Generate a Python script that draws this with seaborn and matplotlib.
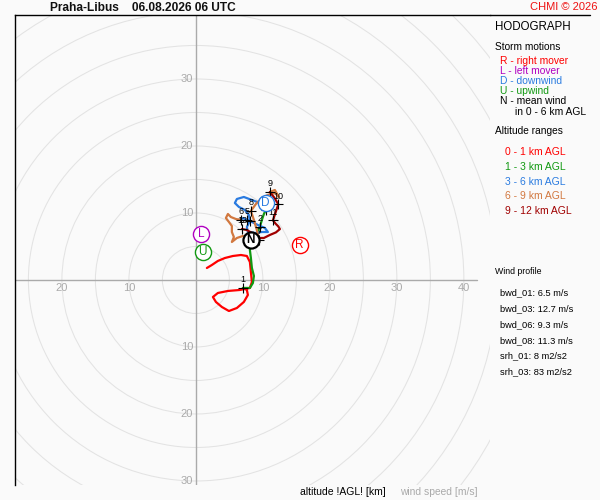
import numpy as np
import pandas as pd
import matplotlib
matplotlib.use("Agg")
import matplotlib.pyplot as plt
import seaborn as sns
from matplotlib.patches import Circle
from matplotlib.lines import Line2D

# ---------------- data (m/s) ----------------
seg_names = ["0 - 1 km AGL", "1 - 3 km AGL", "3 - 6 km AGL", "6 - 9 km AGL", "9 - 12 km AGL"]
seg_colors = ["#ff0000", "#119911", "#2a7be0", "#d2783f", "#a00000"]

u_0_1 = [1.64, 2.39, 3.28, 4.33, 5.52, 6.72, 7.61, 8.06, 8.21, 8.36, 8.06, 6.57, 4.78, 3.28,
         2.54, 2.99, 3.88, 4.93, 6.12, 7.16, 7.76, 7.61, 7.01]
v_0_1 = [1.79, 2.24, 2.84, 3.28, 3.58, 3.73, 3.58, 2.69, 1.19, -0.30, -1.19, -1.49, -1.64, -1.94,
         -2.54, -3.28, -4.03, -4.63, -4.18, -3.28, -2.24, -1.49, -1.19]

u_1_3 = [7.01, 8.06, 8.51, 8.66, 8.36, 8.21, 8.06, 8.21, 8.66, 9.10, 9.40, 9.55, 9.85, 10.15, 10.45]
v_1_3 = [-1.19, -1.19, -0.45, 0.60, 1.79, 3.28, 4.48, 5.37, 6.12, 6.87, 7.61, 7.91, 8.96, 9.85, 10.45]

u_3_6 = [10.45, 9.55, 8.36, 7.16, 6.12, 5.82, 6.42, 7.31, 7.91, 8.06, 7.61, 7.76, 8.81, 9.85,
         10.75, 10.30, 9.25, 8.36, 7.61, 7.01, 6.72]
v_3_6 = [10.45, 11.49, 11.94, 12.39, 12.09, 11.49, 10.90, 10.45, 9.70, 8.81, 7.91, 7.16, 7.01, 7.16,
         7.16, 7.76, 8.21, 8.66, 8.96, 9.25, 8.96]

u_6_9 = [6.72, 5.97, 5.22, 4.78, 4.48, 4.93, 5.37, 5.37, 5.67, 5.37, 6.12, 7.01, 8.06, 9.40,
         9.10, 8.66, 8.21, 8.96, 9.85, 10.75, 11.79, 12.39, 11.79, 11.04]
v_6_9 = [8.96, 9.10, 9.40, 9.85, 9.25, 8.66, 8.06, 7.16, 6.42, 5.67, 6.27, 6.57, 6.27, 5.97,
         7.46, 8.96, 10.30, 11.34, 12.24, 12.69, 12.99, 12.39, 13.43, 13.13]

u_9_12 = [11.04, 11.70, 12.30, 11.90, 11.50, 11.90, 12.30, 12.54, 11.94, 11.04, 10.15, 9.25,
          8.36, 7.61, 6.87]
v_9_12 = [13.13, 12.30, 11.30, 10.10, 8.90, 8.40, 8.00, 7.60, 7.10, 6.72, 6.27, 6.27,
          7.01, 7.46, 7.61]

km_u = [7.01, 9.55, 10.45, 8.06, 7.61, 6.72, 9.40, 8.21, 11.04, 12.30, 11.50, 6.87]
km_v = [-1.19, 7.91, 10.45, 8.81, 8.96, 8.96, 5.97, 10.30, 13.13, 11.30, 8.90, 7.61]
km_text = ["1", "2", "", "", "5", "6", "7", "8", "9", "10", "11", "12"]

storm_letters = ["R", "L", "D", "U", "N"]
storm_u = [15.5, 0.75, 10.4, 1.0, 8.2]
storm_v = [5.2, 6.9, 11.5, 4.2, 6.0]
storm_colors = ["#ff0000", "#b000c0", "#2a7be0", "#119911", "#000000"]
storm_desc = ["R - right mover", "L - left mover", "D - downwind", "U - upwind", "N - mean wind"]

wind_profile = ["bwd_01: 6.5 m/s", "bwd_03: 12.7 m/s", "bwd_06: 9.3 m/s", "bwd_08: 11.3 m/s"]
helicity = ["srh_01: 8 m2/s2", "srh_03: 83 m2/s2"]

ring_radii = [5, 10, 15, 20, 25, 30, 35, 40, 45, 50, 55, 60, 65]
x_tick_vals = [-20, -10, 10, 20, 30, 40]
y_tick_vals = [-30, -20, -10, 10, 20, 30]

# ---------------- figure ----------------
sns.set_theme(style="white")
plt.rcParams["font.family"] = ["Liberation Sans", "DejaVu Sans"]

W, H = 600, 500
fig = plt.figure(figsize=(6, 5), dpi=100, facecolor="#fafafa")
ax = fig.add_axes([15 / W, 15 / H, 475 / W, 470 / H])
ax.set_facecolor("#fafafa")
ax.set_xlim(-27.0, 43.9)
ax.set_ylim(-30.6, 39.55)
ax.set_xticks([])
ax.set_yticks([])
for s in ["bottom", "right"]:
    ax.spines[s].set_visible(False)
for s in ["left", "top"]:
    ax.spines[s].set_color("black")
    ax.spines[s].set_linewidth(1.0)

# rings
for r in ring_radii:
    ax.add_patch(Circle((0, 0), r, fill=False, ec="#e3e3e3", lw=0.75, zorder=1))
ax.axhline(0, xmin=0, xmax=(41.9 + 27.0) / 70.9, color="#aaaaaa", lw=1.0, zorder=2)
ax.axvline(0, color="#aaaaaa", lw=1.0, zorder=2)

for t in x_tick_vals:
    ax.text(t, -1.25, str(abs(t)), ha="center", va="center", fontsize=8, color="#aaaaaa", zorder=2)
for t in y_tick_vals:
    ax.text(-0.4, t, str(abs(t)), ha="right", va="center", fontsize=8, color="#aaaaaa", zorder=2)

# hodograph segments
segs = [(u_0_1, v_0_1), (u_1_3, v_1_3), (u_3_6, v_3_6), (u_6_9, v_6_9), (u_9_12, v_9_12)]
frames = []
for name, (uu, vv) in zip(seg_names, segs):
    frames.append(pd.DataFrame({"u": uu, "v": vv, "layer": name}))
df = pd.concat(frames, ignore_index=True)
sns.lineplot(data=df, x="u", y="v", hue="layer", palette=dict(zip(seg_names, seg_colors)),
             sort=False, estimator=None, units="layer", lw=1.6, legend=False, ax=ax, zorder=4)
ax.set_xlabel("")
ax.set_ylabel("")

# km markers
ax.scatter(km_u, km_v, marker="+", s=45, color="black", linewidths=0.8, zorder=5)
for uu, vv, tt in zip(km_u, km_v, km_text):
    if tt:
        ax.text(uu, vv + 1.2, tt, ha="center", va="center", fontsize=6.5, color="black", zorder=5)

# storm motion markers
for letter, uu, vv, c in zip(storm_letters, storm_u, storm_v, storm_colors):
    bold = letter == "N"
    ax.scatter([uu], [vv], s=135, facecolor="white", edgecolor=c, linewidths=1.6 if bold else 1.0,
               zorder=7)
    ax.text(uu, vv - 0.05, letter, ha="center", va="center", fontsize=8.5, color=c,
            fontweight="bold" if bold else "normal", zorder=8)

# header
fig.add_artist(Line2D([490 / W, 590 / W], [1 - 15 / H, 1 - 15 / H], color="black", lw=1.0))
fig.text(50 / W, 1 - 8 / H, "Praha-Libus    06.08.2026 06 UTC", ha="left", va="center",
         fontsize=8.6, fontweight="bold", color="#111111")
fig.text(597 / W, 1 - 7 / H, "CHMI © 2026", ha="right", va="center", fontsize=8, color="#ee1111")

# right panel
def ptext(x, y, s, size=6.8, color="black"):
    fig.text(x / W, 1 - y / H, s, ha="left", va="center", fontsize=size, color=color)

ptext(495, 27, "HODOGRAPH", size=8.3)
ptext(495, 47, "Storm motions", size=7.3)
for i, (d, c) in enumerate(zip(storm_desc, storm_colors)):
    ptext(500, 61 + i * 10.1, d, size=7.4, color=c)
ptext(515, 112, "in 0 - 6 km AGL", size=7.4)
ptext(495, 131, "Altitude ranges", size=7.3)
for i, (n, c) in enumerate(zip(seg_names, seg_colors)):
    ptext(505, 152 + i * 14.8, n, size=7.5, color=c)
ptext(495, 271, "Wind profile", size=6.3)
for i, s in enumerate(wind_profile):
    ptext(500, 293 + i * 16, s, size=6.7)
for i, s in enumerate(helicity):
    ptext(500, 356 + i * 16, s, size=6.7)

# bottom
fig.text(300 / W, 1 - 492 / H, "altitude !AGL! [km]", ha="left", va="center", fontsize=7.5, color="black")
fig.text(400 / W, 1 - 492 / H, "wind speed [m/s]", ha="left", va="center", fontsize=7.4, color="#aaaaaa")

fig.savefig("out.png", dpi=100, facecolor=fig.get_facecolor())
